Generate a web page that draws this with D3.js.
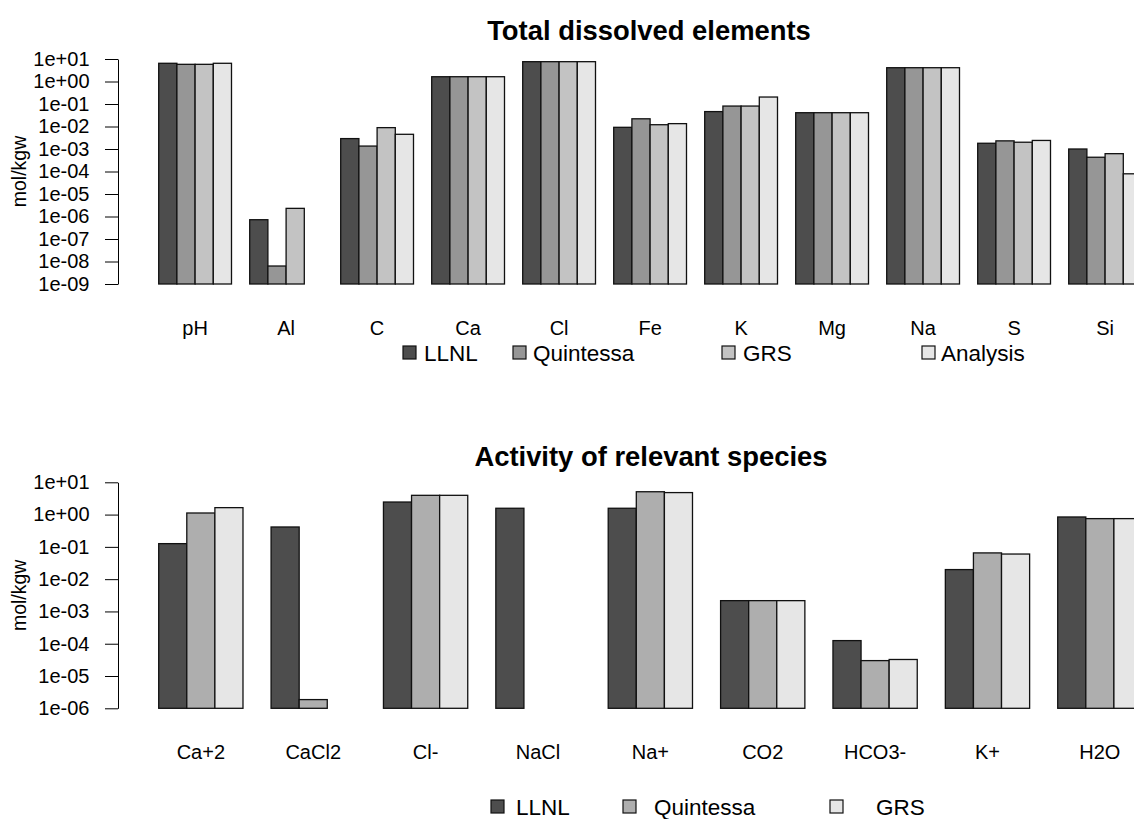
<!DOCTYPE html>
<html>
<head>
<meta charset="utf-8">
<script src="https://cdn.jsdelivr.net/npm/d3@7"></script>
<style>
  body { margin: 0; background: #fff; }
  svg text { font-family: "Liberation Sans", Arial, sans-serif; fill: #000; }
  .axis path, .axis line { stroke: #000; stroke-width: 1; }
</style>
</head>
<body>
<div id="chart"></div>
<script>
// top panel: total dissolved elements (mol/kgw)
const elementNames = ['pH', 'Al', 'C', 'Ca', 'Cl', 'Fe', 'K', 'Mg', 'Na', 'S', 'Si'];
const elementSeries = ['LLNL', 'Quintessa', 'GRS', 'Analysis'];
const llnlTotal = [6.45, 7.2e-7, 2.9e-3, 1.63, 7.6, 9.2e-3, 0.046, 0.041, 4.1, 1.8e-3, 1.0e-3];
const quintessaTotal = [5.8, 6.3e-9, 1.35e-3, 1.63, 7.6, 0.022, 0.081, 0.041, 4.1, 2.3e-3, 4.3e-4];
const grsTotal = [5.8, 2.3e-6, 8.9e-3, 1.63, 7.6, 0.012, 0.081, 0.041, 4.1, 2.0e-3, 6.2e-4];
const analysisTotal = [6.45, null, 4.5e-3, 1.63, 7.6, 0.0134, 0.204, 0.041, 4.1, 2.4e-3, 7.9e-5];
const totalTicks = [1e1, 1e0, 1e-1, 1e-2, 1e-3, 1e-4, 1e-5, 1e-6, 1e-7, 1e-8, 1e-9];

// bottom panel: activity of relevant species
const speciesNames = ['Ca+2', 'CaCl2', 'Cl-', 'NaCl', 'Na+', 'CO2', 'HCO3-', 'K+', 'H2O'];
const speciesSeries = ['LLNL', 'Quintessa', 'GRS'];
const llnlActivity = [0.126, 0.413, 2.45, 1.57, 1.57, 2.16e-3, 1.25e-4, 0.0198, 0.843];
const quintessaActivity = [1.12, 1.86e-6, 3.95, null, 5.1, 2.16e-3, 3.0e-5, 0.065, 0.75];
const grsActivity = [1.64, null, 3.95, null, 4.8, 2.16e-3, 3.25e-5, 0.060, 0.75];
const activityTicks = [1e1, 1e0, 1e-1, 1e-2, 1e-3, 1e-4, 1e-5, 1e-6];

const W = 1134, H = 819;
const svg = d3.select('#chart').append('svg')
  .attr('width', W)
  .attr('height', H);

const sciFormat = (v) => {
  const e = Math.round(Math.log10(v));
  return '1e' + (e < 0 ? '-' : '+') + String(Math.abs(e)).padStart(2, '0');
};

const drawPanel = (opt) => {
  const rows = [];
  opt.names.forEach((name, i) => {
    opt.series.forEach((s, j) => {
      rows.push({ name: name, series: s, value: opt.values[j][i] });
    });
  });

  const x_scale = d3.scaleBand()
    .domain(opt.names)
    .range(opt.xRange)
    .paddingInner(1 / (opt.series.length + 1))
    .paddingOuter(0);

  const x_inner = d3.scaleBand()
    .domain(opt.series)
    .range([0, x_scale.bandwidth()]);

  const y_scale = d3.scaleLog()
    .domain(opt.yDomain)
    .range(opt.yRange);

  const color = d3.scaleOrdinal()
    .domain(opt.series)
    .range(opt.colors);

  const g = svg.append('g');

  g.append('g')
    .attr('class', 'bars')
    .selectAll('rect')
    .data(rows.filter((d) => d.value != null))
    .enter()
    .append('rect')
    .attr('x', (d) => x_scale(d.name) + x_inner(d.series))
    .attr('width', x_inner.bandwidth())
    .attr('y', (d) => y_scale(d.value))
    .attr('height', (d) => y_scale(opt.yDomain[0]) - y_scale(d.value))
    .attr('fill', (d) => color(d.series))
    .attr('stroke', '#111')
    .attr('stroke-width', 1.3);

  const yAxis = g.append('g')
    .attr('class', 'axis')
    .attr('transform', 'translate(' + opt.axisX + ',0)')
    .call(d3.axisLeft(y_scale)
      .tickValues(opt.ticks)
      .tickFormat(sciFormat)
      .tickSizeInner(13)
      .tickSizeOuter(0)
      .tickPadding(15.5));
  yAxis.selectAll('text')
    .style('font-size', '20px')
    .attr('fill', '#000');

  g.append('text')
    .attr('transform', 'translate(' + opt.ylabX + ',' + ((opt.yRange[0] + opt.yRange[1]) / 2) + ') rotate(-90)')
    .attr('text-anchor', 'middle')
    .style('font-size', '19.5px')
    .text('mol/kgw');

  g.selectAll('.xlab')
    .data(opt.names)
    .enter()
    .append('text')
    .attr('class', 'xlab')
    .attr('x', (d) => x_scale(d) + x_scale.bandwidth() / 2)
    .attr('y', opt.xlabY)
    .attr('text-anchor', 'middle')
    .style('font-size', '20px')
    .text((d) => d);

  g.append('text')
    .attr('x', opt.titleX)
    .attr('y', opt.titleY)
    .attr('text-anchor', 'middle')
    .style('font-size', '27.4px')
    .style('font-weight', 'bold')
    .text(opt.title);

  const legend = g.selectAll('.legend')
    .data(opt.series)
    .enter()
    .append('g')
    .attr('class', 'legend');

  legend.append('rect')
    .attr('x', (d, i) => opt.legendBoxX[i])
    .attr('y', opt.legendY - 15)
    .attr('width', 13)
    .attr('height', 13)
    .attr('fill', (d) => color(d))
    .attr('stroke', '#111')
    .attr('stroke-width', 1.2);

  legend.append('text')
    .attr('x', (d, i) => opt.legendTextX[i])
    .attr('y', opt.legendY)
    .style('font-size', '22.5px')
    .text((d) => d);
};

drawPanel({
  names: elementNames,
  series: elementSeries,
  values: [llnlTotal, quintessaTotal, grsTotal, analysisTotal],
  colors: ['#4d4d4d', '#969696', '#c3c3c3', '#e6e6e6'],
  xRange: [158.7, 1141.5],
  yDomain: [1e-9, 1e1],
  yRange: [284, 59],
  ticks: totalTicks,
  axisX: 118,
  ylabX: 26,
  xlabY: 335,
  title: 'Total dissolved elements',
  titleX: 649,
  titleY: 40,
  legendY: 361,
  legendBoxX: [403, 513, 722, 922],
  legendTextX: [424, 533, 743, 941]
});

drawPanel({
  names: speciesNames,
  series: speciesSeries,
  values: [llnlActivity, quintessaActivity, grsActivity],
  colors: ['#4d4d4d', '#aeaeae', '#e6e6e6'],
  xRange: [158.7, 1142],
  yDomain: [1e-6, 1e1],
  yRange: [708.3, 482.3],
  ticks: activityTicks,
  axisX: 118,
  ylabX: 26,
  xlabY: 759,
  title: 'Activity of relevant species',
  titleX: 651,
  titleY: 466,
  legendY: 815,
  legendBoxX: [491, 623, 830],
  legendTextX: [516, 654, 876]
});
</script>
</body>
</html>
